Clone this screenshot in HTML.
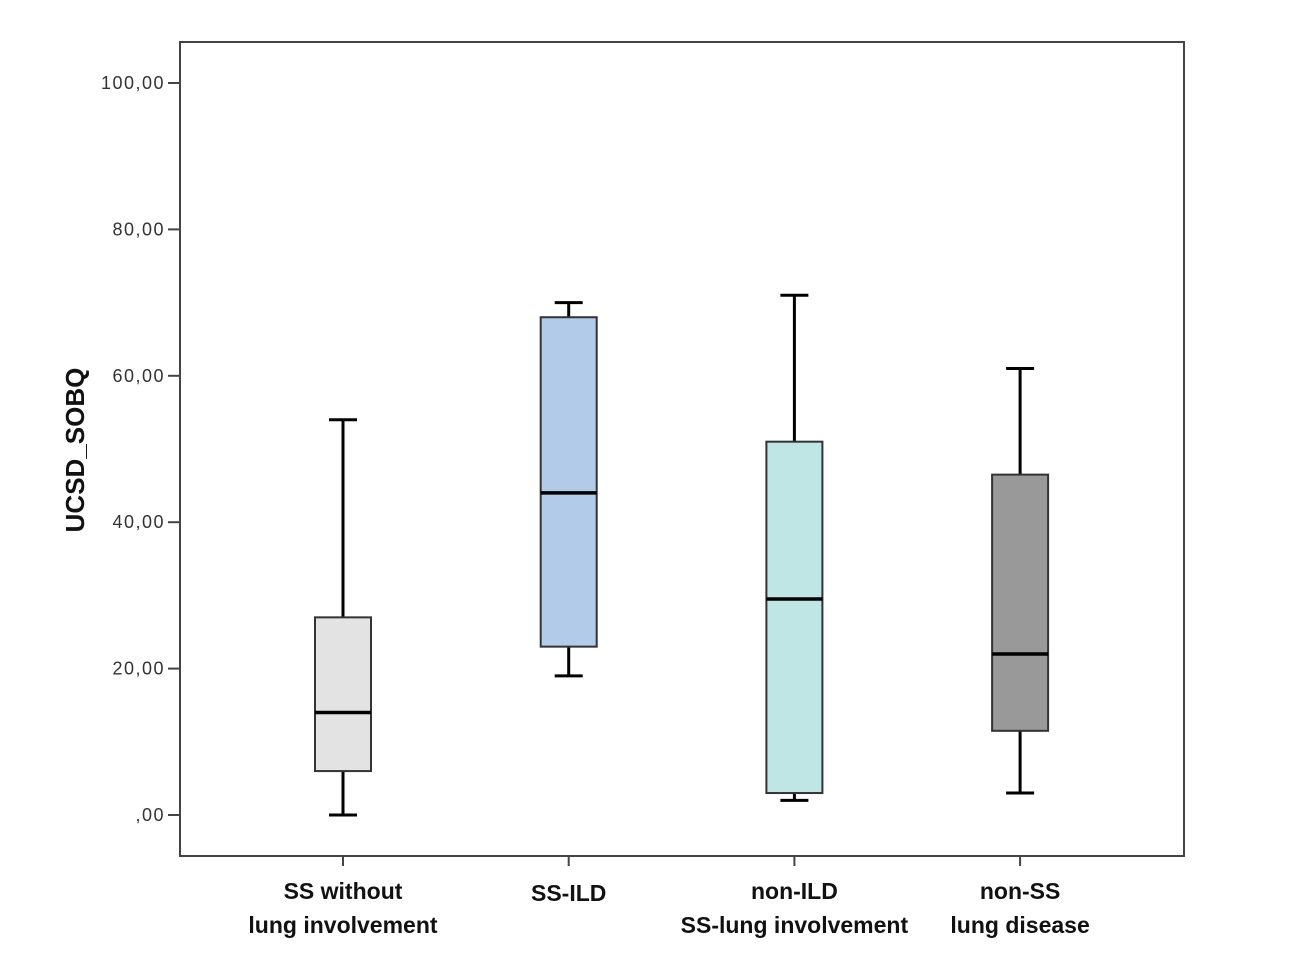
<!DOCTYPE html>
<html><head><meta charset="utf-8"><style>
body{margin:0;background:#fff;width:1294px;height:978px;overflow:hidden}
svg{display:block}
</style></head><body>
<svg id="chart" width="1294" height="978" xmlns="http://www.w3.org/2000/svg">
<rect x="180" y="42" width="1004" height="814" fill="#fff" stroke="#444" stroke-width="2"/>
<text transform="translate(84,450) rotate(-90)" text-anchor="middle" font-family="Liberation Sans, sans-serif" font-weight="bold" font-size="26" fill="#111">UCSD_SOBQ</text>
<g id="yaxis"></g><g id="boxes"></g><g id="xlabels"></g>
</svg>
<script>
const categories = [["SS without","lung involvement"],["SS-ILD"],["non-ILD","SS-lung involvement"],["non-SS","lung disease"]];
const whiskerLow = [0, 19, 2, 3];
const q1 = [6, 23, 3, 11.5];
const medians = [14, 44, 29.5, 22];
const q3 = [27, 68, 51, 46.5];
const whiskerHigh = [54, 70, 71, 61];
const fills = ["#e3e3e3","#b1cbe9","#bfe5e4","#999999"];
const yTicks = [0,20,40,60,80,100];
const yTickLabels = [",00","20,00","40,00","60,00","80,00","100,00"];

const NS="http://www.w3.org/2000/svg";
const y = v => 815 - v*7.32;
const x = i => 343 + i*225.7;
function mk(tag, attrs, parent){const e=document.createElementNS(NS,tag);for(const k in attrs)e.setAttribute(k,attrs[k]);parent.appendChild(e);return e;}
const ya=document.getElementById('yaxis'), bx=document.getElementById('boxes'), xl=document.getElementById('xlabels');
yTicks.forEach((t,i)=>{
  const l=mk('line',{x1:168,x2:180,y1:y(t),y2:y(t),stroke:'#444','stroke-width':2},ya);
  
  
  const tx=mk('text',{x:165,y:y(t)+6,'text-anchor':'end','font-family':'Liberation Sans, sans-serif','font-size':18,'letter-spacing':1.5,fill:'#333'},ya);
  tx.textContent=yTickLabels[i];
  
  
});
categories.forEach((c,i)=>{
  const cx=x(i);
  const g=mk('g',{},bx);
  
  
  mk('line',{x1:cx,x2:cx,y1:y(whiskerHigh[i]),y2:y(q3[i]),stroke:'#000','stroke-width':3},g);
  mk('line',{x1:cx,x2:cx,y1:y(q1[i]),y2:y(whiskerLow[i]),stroke:'#000','stroke-width':3},g);
  mk('line',{x1:cx-14,x2:cx+14,y1:y(whiskerHigh[i]),y2:y(whiskerHigh[i]),stroke:'#000','stroke-width':3},g);
  mk('line',{x1:cx-14,x2:cx+14,y1:y(whiskerLow[i]),y2:y(whiskerLow[i]),stroke:'#000','stroke-width':3},g);
  mk('rect',{x:cx-28,y:y(q3[i]),width:56,height:y(q1[i])-y(q3[i]),fill:fills[i],stroke:'#333','stroke-width':2},g);
  mk('line',{x1:cx-28,x2:cx+28,y1:y(medians[i]),y2:y(medians[i]),stroke:'#000','stroke-width':3.5},g);
  const tk=mk('line',{x1:cx,x2:cx,y1:856,y2:866,stroke:'#444','stroke-width':2},xl);
  
  
  c.forEach((line,j)=>{
    const t=mk('text',{x:cx,y:(c.length===1?901:899+j*34),'text-anchor':'middle','font-family':'Liberation Sans, sans-serif','font-weight':'bold','font-size':23,fill:'#111'},xl);
    t.textContent=line;
    
    
  });
});
</script>
</body></html>
